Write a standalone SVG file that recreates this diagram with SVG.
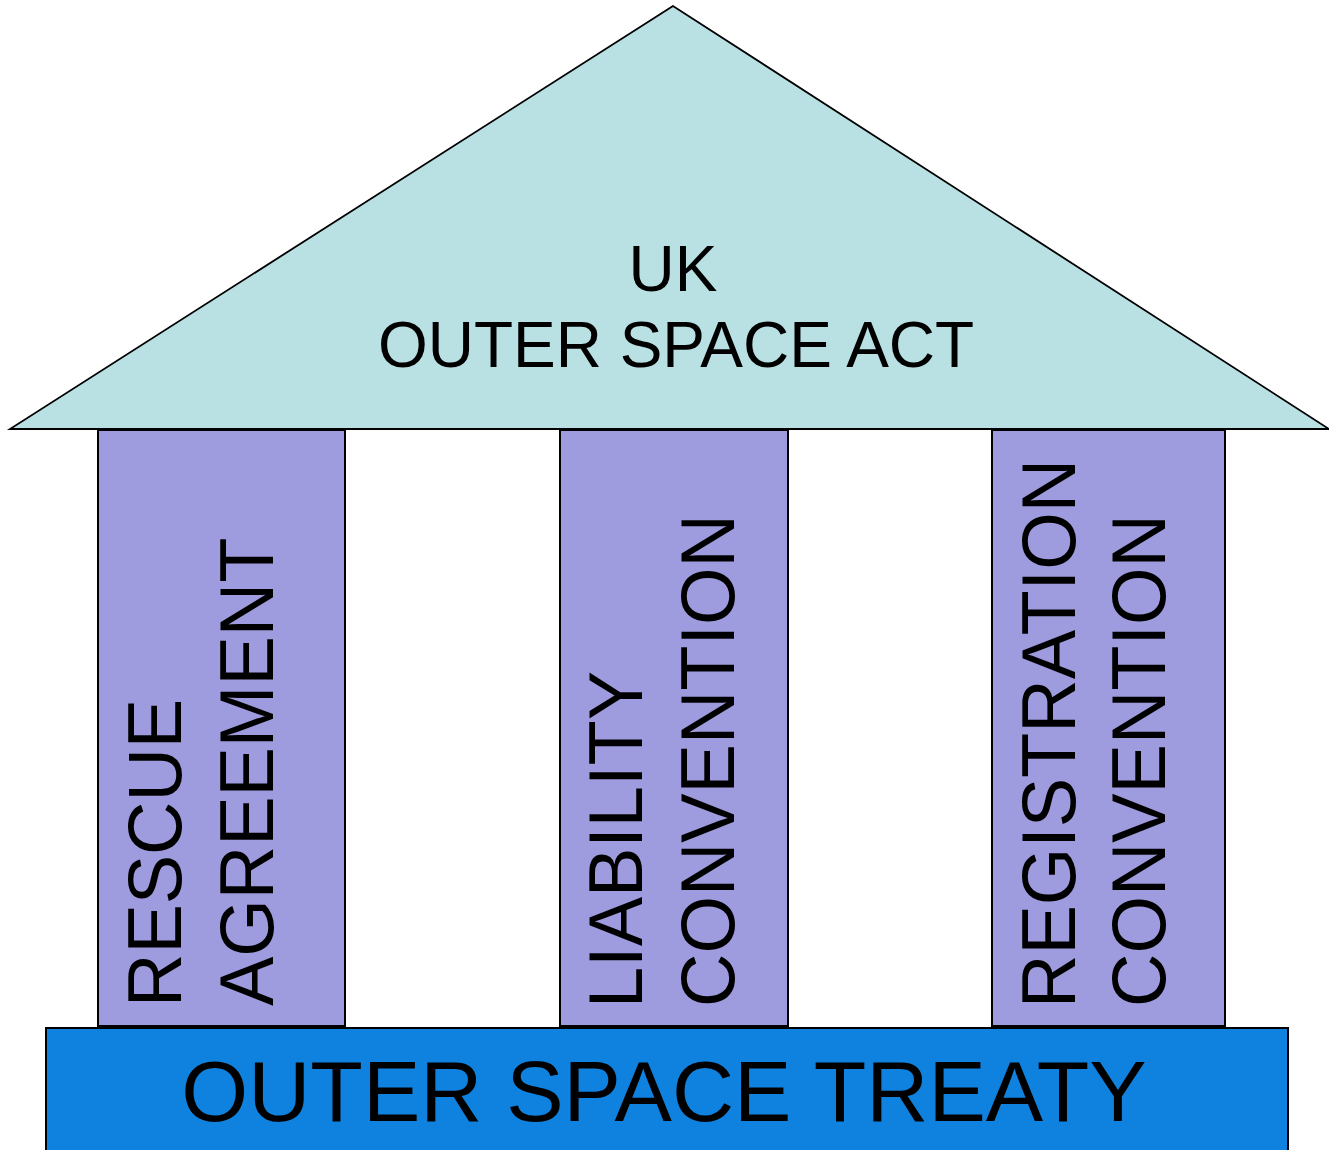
<svg xmlns="http://www.w3.org/2000/svg" width="1329" height="1150" viewBox="0 0 1329 1150">
<style>
.t{font-family:"Liberation Sans",Arial,sans-serif;fill:#000}
.pillar{fill:#9E9CDE;stroke:#000;stroke-width:2}
.pt{font-size:76px}
</style>
<rect width="1329" height="1150" fill="#fff"/>
<g id="roof">
<polygon points="673,6 10,429 1329,429" fill="#B9E0E3" stroke="#000" stroke-width="1.8" stroke-linejoin="miter"/>
<text class="t" x="673" y="291" font-size="64" text-anchor="middle">UK</text>
<text class="t" x="676" y="367" font-size="64" text-anchor="middle">OUTER SPACE ACT</text>
</g>
<g id="rescue">
<rect class="pillar" x="98" y="430" width="247" height="596"/>
<text class="t pt" transform="translate(181,1007) rotate(-90) scale(0.973,1)">RESCUE</text>
<text class="t pt" transform="translate(273,1006) rotate(-90) scale(0.973,1)">AGREEMENT</text>
</g>
<g id="liability">
<rect class="pillar" x="560" y="430" width="228" height="596"/>
<text class="t pt" transform="translate(642,1008) rotate(-90) scale(0.973,1)">LIABILITY</text>
<text class="t pt" transform="translate(734,1007) rotate(-90) scale(0.973,1)">CONVENTION</text>
</g>
<g id="registration">
<rect class="pillar" x="992" y="430" width="233" height="596"/>
<text class="t pt" transform="translate(1075,1008) rotate(-90) scale(0.973,1)">REGISTRATION</text>
<text class="t pt" transform="translate(1165,1007) rotate(-90) scale(0.973,1)">CONVENTION</text>
</g>
<g id="treaty">
<rect x="46" y="1028" width="1242" height="130" fill="#0F82E0" stroke="#000" stroke-width="2"/>
<text class="t" x="664" y="1121" font-size="86" text-anchor="middle">OUTER SPACE TREATY</text>
</g>
<g id="connectors"></g>
</svg>
